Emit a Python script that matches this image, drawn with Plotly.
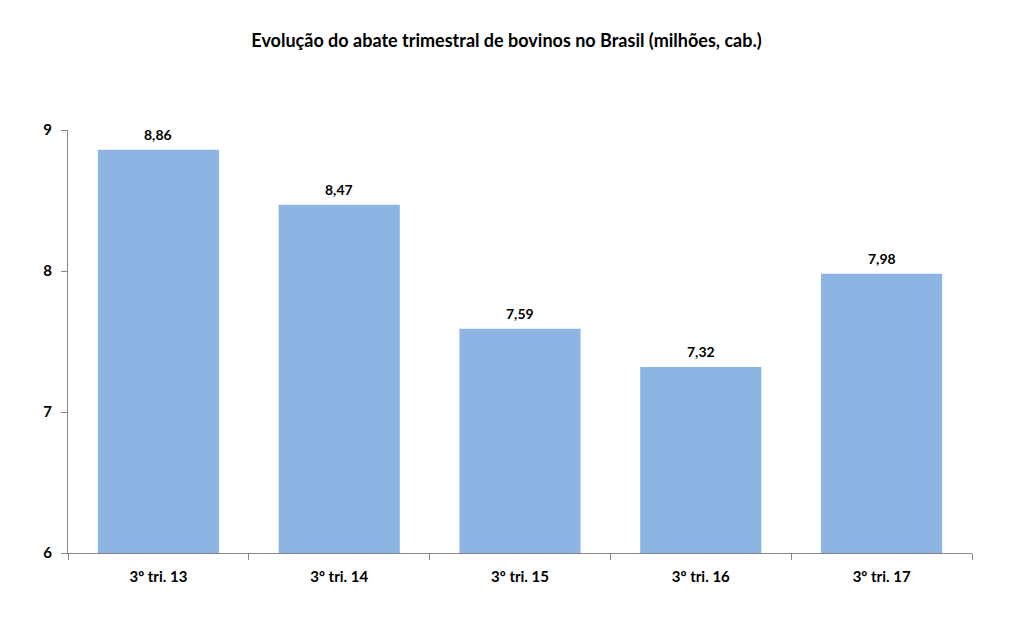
import plotly.graph_objects as go

categories = ["3º tri. 13", "3º tri. 14", "3º tri. 15", "3º tri. 16", "3º tri. 17"]
values = [8.86, 8.47, 7.59, 7.32, 7.98]
labels = ["8,86", "8,47", "7,59", "7,32", "7,98"]
y_ticks = [6, 7, 8, 9]

font_family = "Lato, Calibri, Carlito, sans-serif"

fig = go.Figure(go.Bar(
    x=categories,
    y=values,
    marker=dict(color="#8EB4E3", line=dict(width=0)),
    width=0.67,
))

for c, v, t in zip(categories, values, labels):
    fig.add_annotation(
        x=c, y=v, text=f"<b>{t}</b>", showarrow=False,
        yanchor="bottom", yshift=5,
        font=dict(family=font_family, size=14, color="#000000"),
    )

fig.update_layout(
    width=1013, height=632,
    margin=dict(l=68, r=41, t=130, b=79),
    paper_bgcolor="white", plot_bgcolor="white",
    showlegend=False,
    title=dict(
        text="<b>Evolução do abate trimestral de bovinos no Brasil (milhões, cab.)</b>",
        x=0.5, xanchor="center", y=1 - 41/632, yanchor="middle",
        font=dict(family=font_family, size=18, color="#000000"),
    ),
    font=dict(family=font_family, color="#000000"),
    xaxis=dict(
        showline=True, linecolor="#868686", linewidth=1,
        ticks="outside", ticklen=6, tickcolor="#868686",
        tickson="boundaries",
        tickvals=categories,
        ticktext=[f"<b>{c}</b>" for c in categories],
        tickfont=dict(family=font_family, size=15, color="#000000"),
        showgrid=False, ticklabelstandoff=10,
    ),
    yaxis=dict(
        range=[6, 9], tickvals=y_ticks, ticktext=[f"<b>{v}</b>" for v in y_ticks],
        showline=True, linecolor="#868686", linewidth=1,
        ticks="outside", ticklen=6, tickcolor="#868686",
        tickfont=dict(family=font_family, size=15, color="#000000"),
        showgrid=False, zeroline=False, ticklabelstandoff=6,
    ),
    bargap=0.33,
)

fig.write_html("out.html")
